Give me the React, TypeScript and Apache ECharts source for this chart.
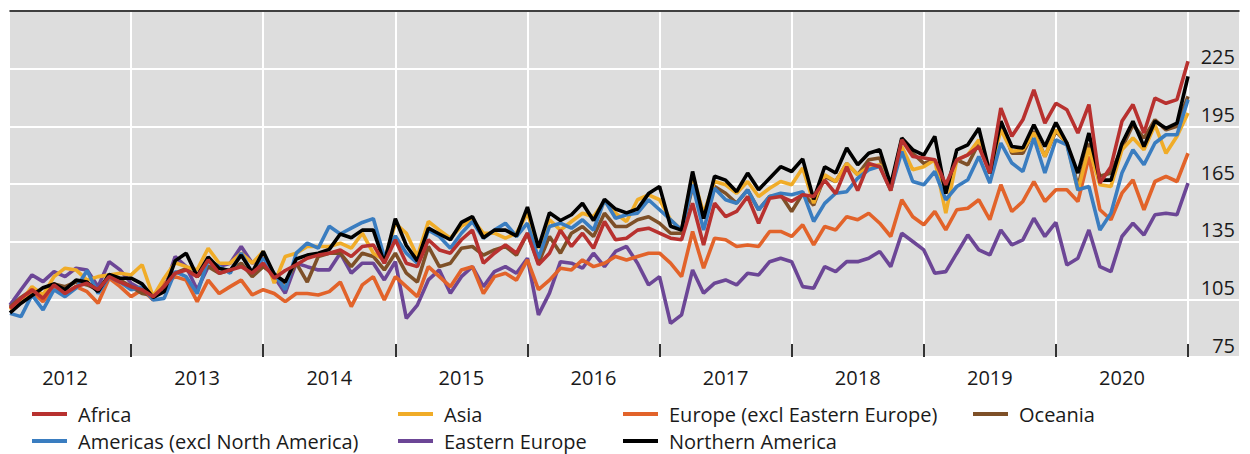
import React, { useEffect, useRef } from "react";
import * as echarts from "echarts";

const years = [2012, 2013, 2014, 2015, 2016, 2017, 2018, 2019, 2020];
const months: string[] = [];
years.forEach((y) => {
  for (let m = 1; m <= 12; m++) months.push(`${y}-${m < 10 ? "0" + m : m}`);
});

const yTicks = { min: 75, max: 255, step: 30 };

const africa = [
  100.3, 105.5, 110, 105.5, 112.5, 108, 111.6, 113.4, 110, 116.8, 114, 111.6,
  110, 106.4, 111.6, 118.6, 120.3, 116.8, 125.5, 118.6, 120.3, 122, 118.6, 123.8,
  116, 120, 123, 126.4, 128, 129, 130.7, 127.3, 132.5, 133.3, 123.8, 136,
  123.8, 122, 136, 130.7, 129, 136, 141, 123.8, 129, 133.3, 129, 139.4,
  123, 129, 141, 132.5, 139.4, 131.6, 145.5, 136, 136.8, 141, 142, 139.4,
  136.8, 136, 155, 133.3, 155, 148, 150.7, 158.5, 144.6, 157.6, 158.5, 156,
  159.4, 158.5, 167, 160, 174, 161.6, 175.7, 174, 161.6, 188, 179.3, 178.5,
  177.6, 164.6, 177.6, 180.2, 184.5, 170.7, 204.5, 189.8, 198.4, 214, 196.7, 207,
  203.6, 191.5, 206.3, 165.5, 174, 197.6, 206.3, 191.5, 209.7, 207, 208.9, 228.8,
];
const americas = [
  97.7, 96, 107.3, 99.5, 110, 106.4, 110.8, 120, 108, 116.8, 114, 110,
  111.6, 104.7, 105.5, 119.4, 116.8, 108, 125.5, 122, 118.6, 129, 118.6, 126.4,
  118.6, 110, 129, 134.2, 131.6, 143, 139, 142, 145, 147, 127, 138,
  129, 123.8, 141, 137.7, 131.6, 139.4, 145.5, 136.8, 141, 144.6, 137.7, 144.6,
  126.4, 142.9, 144.6, 142, 146.4, 141, 156.8, 147.2, 149, 149.8, 156.8, 151.6,
  146.4, 141, 164.6, 141, 162.8, 156.8, 155, 162, 151.6, 158.5, 160.2, 159.4,
  161, 145.5, 154.9, 160.2, 161, 168, 172.4, 174.2, 161.9, 181.9, 166.3, 164.6,
  171.5, 156.8, 163.7, 167.2, 179.3, 165.5, 186.3, 175.9, 171.5, 188.9, 170.7, 188,
  185.4, 162, 163.7, 141.1, 149.8, 170.7, 182.8, 175, 186.3, 190.6, 190.6, 208.9,
];
const asia = [
  99.5, 103.8, 111.6, 107.3, 116.8, 121.2, 120.3, 115, 116.8, 117.7, 118.6, 117.7,
  123, 106.4, 116, 124, 122, 120.3, 131.6, 123.8, 123.8, 129, 123.8, 129.9,
  113.4, 127.3, 129, 132.5, 132.5, 132.5, 134.2, 131.6, 139.4, 129, 125.5, 144.6,
  139.4, 127.3, 145.5, 141, 136.8, 143, 146.4, 139.4, 139.4, 136.8, 139.4, 149.8,
  131.6, 146.4, 141, 145.5, 149.8, 148, 155.9, 149.8, 145.5, 156.8, 159.4, 156.8,
  146.4, 141, 169.8, 149.8, 166.3, 164.6, 160.2, 166.3, 158.5, 162.8, 166.3, 164.6,
  173.3, 155, 169.8, 166.3, 175.7, 169.8, 174, 175, 161.6, 184.5, 172.4, 174,
  177.6, 149.8, 177.6, 180.2, 188, 170.7, 193.2, 182, 182.8, 191.5, 179.3, 193.2,
  186.3, 161.6, 183.7, 164.6, 163.7, 182.8, 188.9, 182.8, 195.8, 181, 189.8, 201.9,
];
const easternEurope = [
  102, 110, 117.7, 114.2, 119.4, 116.8, 121.2, 120.3, 111.6, 124.6, 120.3, 113.4,
  110, 107.3, 110, 127.3, 122, 110, 122, 122, 123.8, 132.5, 123.8, 127.3,
  116.8, 108.2, 123.8, 122, 120.3, 120.3, 129, 118.6, 123.8, 123.8, 115.1, 124.6,
  95.1, 102, 115.1, 120.3, 108.2, 116.8, 122, 111.6, 119.4, 122, 118.6, 126.4,
  96.9, 108.2, 124.6, 123.8, 121.2, 129, 122, 129.9, 132.5, 123.8, 112.5, 116.8,
  92.5, 96.9, 120.3, 108.2, 113.4, 115.1, 112.5, 118.6, 117.7, 124.6, 126.4, 124.6,
  111.6, 110.8, 122, 119.4, 124.6, 124.6, 126.4, 129.9, 122, 139.4, 135.1, 130.7,
  118.6, 119.4, 129, 138.5, 130.7, 128.1, 141.1, 133.3, 135.9, 147.2, 137.7, 145,
  122.9, 126.4, 141.1, 122, 119.4, 137.7, 144.6, 138.5, 149, 149.8, 149, 165.5,
];
const europe = [
  100.3, 104.7, 109, 103.8, 110.8, 108, 111.6, 109, 103, 116, 111.6, 106.4,
  110, 104.7, 113.4, 116.8, 115, 103.8, 115, 108, 111.6, 115, 107.3, 110,
  108, 103.8, 108, 108, 107.3, 109, 114, 101.2, 112.5, 116.8, 104.7, 116.8,
  111.6, 106.4, 122, 116.8, 111.6, 120.3, 122, 108, 116.8, 118.6, 115, 125.5,
  110, 115, 121.2, 120.3, 125.5, 122, 123.8, 127.3, 125.5, 127.3, 129, 129,
  123.8, 116.8, 140.3, 121.2, 136.8, 136, 132.5, 133.3, 132.5, 140.3, 140.3, 137.7,
  143.8, 133.3, 142.9, 141.1, 148, 146.4, 149.8, 144.6, 137.7, 156.8, 148, 143.8,
  150.7, 141.1, 151.6, 152.4, 156.8, 146.4, 164.6, 150.7, 155.9, 166.3, 155.9, 162,
  162, 155.9, 179.3, 151.6, 146.4, 160.2, 167.2, 151.6, 166.3, 169, 166.3, 181,
];
const northernAmerica = [
  98, 103, 107, 111, 113, 110, 115, 114, 109, 118, 116, 116,
  113, 106, 109, 125, 129, 117, 127, 121, 120, 128, 119, 130,
  118, 114, 126, 128, 129, 131, 139, 137, 141, 141, 124, 147,
  133, 125, 142, 139, 136, 145, 148, 137, 141, 141, 138, 153,
  132, 150, 146, 149, 155, 146, 157, 152, 150, 152, 160, 163.7,
  143, 141, 171.5, 147, 169, 167, 161, 170.7, 162, 168, 174, 171.5,
  178, 157, 174, 170.7, 183.7, 175, 181, 182.8, 164.6, 188.9, 182.8, 180,
  189.8, 160, 182.8, 185.4, 194, 170.7, 197.6, 184.5, 183.7, 195.8, 184.5, 197,
  186.3, 170.7, 191.5, 167, 167, 186, 197.6, 184.5, 197.6, 194, 196.7, 221,
];
const oceania = [
  101, 106, 110, 107, 113, 111.6, 114, 112.5, 110, 116.8, 115, 111.6,
  108, 107, 111.6, 118.6, 121, 116.8, 122, 118.6, 120.3, 123.8, 116.8, 122,
  117.7, 113.4, 123.8, 114, 127.3, 129, 129, 122, 129, 127.3, 120.3, 129,
  118.6, 114, 132.5, 122, 123.8, 131.6, 132.5, 128, 130.7, 132.5, 128, 139.4,
  123.8, 137.7, 129, 139.4, 142.9, 137.7, 149.8, 142.9, 142.9, 146.4, 148, 144.6,
  139.4, 139.4, 163.7, 148, 163.7, 160.2, 155, 162, 151.6, 158.5, 159.4, 150.7,
  160, 154, 169, 166.3, 175.7, 169.8, 177.6, 178.5, 162.8, 188, 181, 175.7,
  177.6, 162, 177.6, 175, 186.3, 170.7, 197.6, 181, 181, 192.4, 179.3, 192.4,
  186.3, 163.7, 186, 169, 170.7, 183.7, 195.8, 188.9, 198.4, 193.2, 195, 210.6,
];

const seriesDefs = [
  { name: "Eastern Europe", data: easternEurope, color: "#6c4696" },
  { name: "Europe (excl Eastern Europe)", data: europe, color: "#e2632a" },
  { name: "Oceania", data: oceania, color: "#7e5028" },
  { name: "Asia", data: asia, color: "#f0ac28" },
  { name: "Americas (excl North America)", data: americas, color: "#3a7dc0" },
  { name: "Northern America", data: northernAmerica, color: "#000000" },
  { name: "Africa", data: africa, color: "#b8312f" },
];

const legendColumns = [
  ["Africa", "Americas (excl North America)"],
  ["Asia", "Eastern Europe"],
  ["Europe (excl Eastern Europe)", "Northern America"],
  ["Oceania"],
];
const legendLefts = [32, 398, 623, 973];

const FONT = "'Open Sans', 'Noto Sans', sans-serif";
const TEXT = "#1a1a1a";

export default function App() {
  const ref = useRef<HTMLDivElement>(null);
  useEffect(() => {
    if (!ref.current) return;
    const chart = echarts.init(ref.current, undefined, { renderer: "svg" });
    const option: any = {
      animation: false,
      textStyle: { fontFamily: FONT },
      grid: [
        { left: 10, top: 11, width: 1178, height: 346, show: false, containLabel: false },
        {
          left: 10, top: 11, width: 1229, height: 346, show: true,
          backgroundColor: "#dddddd", borderWidth: 0, containLabel: false,
        },
      ],
      xAxis: [
        {
          type: "category", gridIndex: 0, data: months, boundaryGap: false,
          axisLine: { show: false },
          axisTick: {
            show: true, inside: true, length: 13,
            interval: (i: number) => i % 12 === 11,
            lineStyle: { color: "#333333", width: 2 },
          },
          splitLine: {
            show: true, interval: (i: number) => i % 12 === 11,
            lineStyle: { color: "#ffffff", width: 2 },
          },
          axisLabel: {
            interval: (i: number) => i % 12 === 5,
            formatter: (v: string) => v.slice(0, 4),
            margin: 10, fontSize: 20, color: TEXT, fontFamily: FONT,
          },
        },
        {
          type: "value", gridIndex: 1, min: 0, max: 1, position: "top",
          axisLine: { show: true, lineStyle: { color: "#000000", width: 1.5 } },
          axisTick: { show: false }, axisLabel: { show: false }, splitLine: { show: false },
        },
      ],
      yAxis: [
        { type: "value", gridIndex: 0, min: yTicks.min, max: yTicks.max, show: false, splitLine: { show: false } },
        {
          type: "value", gridIndex: 1, min: yTicks.min, max: yTicks.max, interval: yTicks.step,
          position: "right",
          axisLine: { show: false }, axisTick: { show: false },
          splitLine: { show: true, lineStyle: { color: "#ffffff", width: 2 } },
          axisLabel: {
            inside: true, showMaxLabel: false, margin: 4, fontSize: 20, color: TEXT,
            fontFamily: FONT, verticalAlign: "bottom", lineHeight: 24,
            formatter: (v: number) => (v >= yTicks.max ? "" : String(v)),
          },
        },
      ],
      legend: legendColumns.map((col, k) => ({
        orient: "vertical",
        left: legendLefts[k],
        top: 404,
        data: col,
        icon: "rect",
        itemWidth: 35,
        itemHeight: 4,
        itemGap: 7,
        padding: 0,
        textStyle: { fontSize: 20, color: TEXT, fontFamily: FONT, lineHeight: 20, padding: [0, 0, 0, 6] },
      })),
      series: seriesDefs.map((s) => ({
        name: s.name,
        type: "line",
        xAxisIndex: 0,
        yAxisIndex: 0,
        data: s.data,
        showSymbol: false,
        symbol: "none",
        lineStyle: { color: s.color, width: 3.6 },
        itemStyle: { color: s.color },
        z: 3,
      })),
    };
    chart.setOption(option);
    return () => chart.dispose();
  }, []);
  return (
    <div
      ref={ref}
      style={{ position: "absolute", left: 0, top: 0, width: 1250, height: 454 }}
    />
  );
}
